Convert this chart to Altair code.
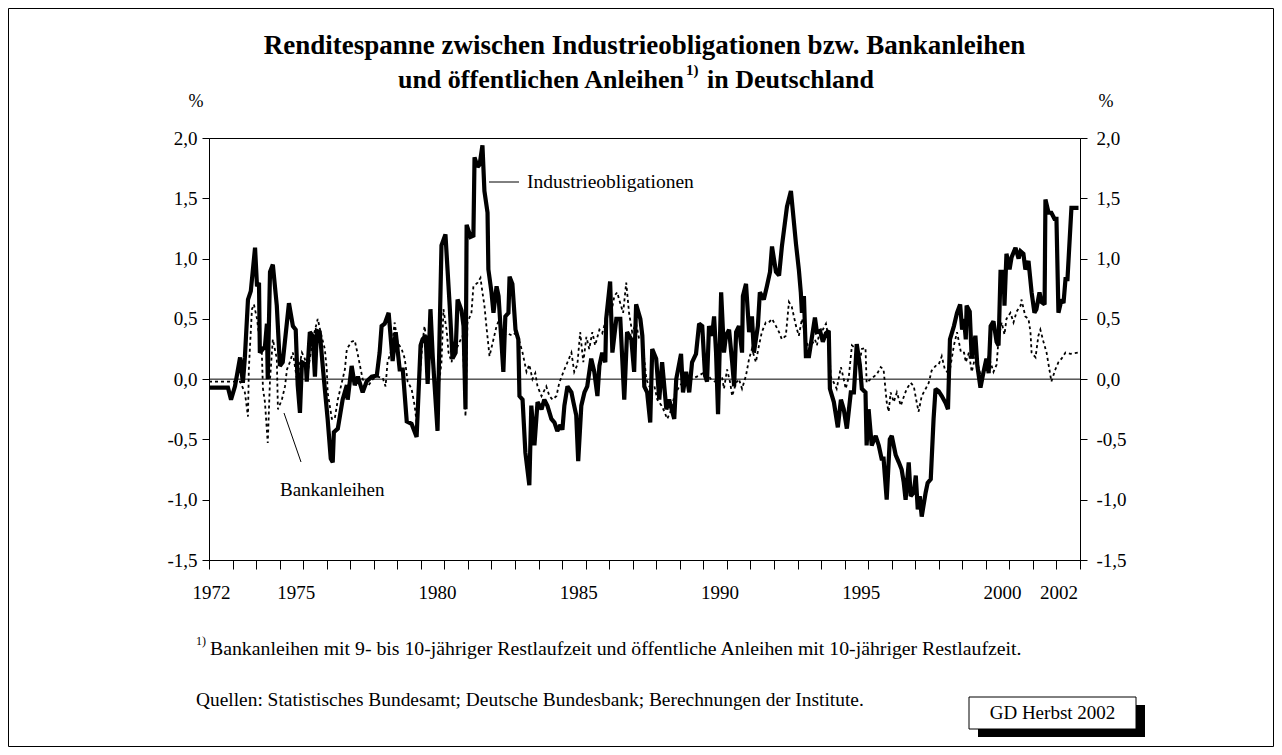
import altair as alt
import pandas as pd

# ---------------- data ----------------
ind_years = [1972.00, 1972.67, 1972.78, 1972.92, 1973.10, 1973.20, 1973.27, 1973.38, 1973.48, 1973.63,
             1973.70, 1973.77, 1973.80, 1973.98, 1974.05, 1974.08, 1974.16, 1974.26, 1974.40, 1974.51,
             1974.61, 1974.83, 1974.97, 1975.07, 1975.14, 1975.22, 1975.29, 1975.43, 1975.46, 1975.57,
             1975.67, 1975.75, 1975.82, 1975.92, 1976.06, 1976.20, 1976.31, 1976.38, 1976.42, 1976.56,
             1976.73, 1976.88, 1976.91, 1977.05, 1977.16, 1977.27, 1977.44, 1977.58, 1977.76, 1977.94,
             1978.04, 1978.11, 1978.22, 1978.36, 1978.50, 1978.61, 1978.75, 1978.86, 1979.00, 1979.17,
             1979.35, 1979.49, 1979.56, 1979.67, 1979.74, 1979.84, 1979.92, 1980.09, 1980.23, 1980.37,
             1980.52, 1980.62, 1980.73, 1980.80, 1980.94, 1981.01, 1981.08, 1981.12, 1981.26, 1981.36,
             1981.40, 1981.51, 1981.58, 1981.68, 1981.75, 1981.86, 1981.89, 1982.00, 1982.07, 1982.18,
             1982.25, 1982.42, 1982.49, 1982.60, 1982.64, 1982.74, 1982.85, 1982.95, 1982.99, 1983.10,
             1983.20, 1983.34, 1983.41, 1983.52, 1983.63, 1983.77, 1983.87, 1983.98, 1984.12, 1984.23,
             1984.33, 1984.44, 1984.51, 1984.58, 1984.69, 1984.83, 1984.90, 1985.00, 1985.07, 1985.18,
             1985.29, 1985.39, 1985.53, 1985.64, 1985.75, 1985.82, 1985.92, 1986.03, 1986.06, 1986.20,
             1986.28, 1986.42, 1986.56, 1986.70, 1986.80, 1986.95, 1987.05, 1987.12, 1987.27, 1987.34,
             1987.41, 1987.51, 1987.62, 1987.69, 1987.83, 1987.94, 1988.04, 1988.19, 1988.29, 1988.40,
             1988.47, 1988.54, 1988.71, 1988.78, 1988.89, 1989.00, 1989.10, 1989.24, 1989.35, 1989.46,
             1989.56, 1989.63, 1989.70, 1989.81, 1989.88, 1989.95, 1990.02, 1990.13, 1990.23, 1990.30,
             1990.41, 1990.52, 1990.59, 1990.66, 1990.76, 1990.87, 1990.90, 1991.01, 1991.12, 1991.22,
             1991.29, 1991.43, 1991.50, 1991.64, 1991.75, 1991.86, 1991.93, 1992.07, 1992.18, 1992.28,
             1992.46, 1992.60, 1992.78, 1992.88, 1992.95, 1992.99, 1993.06, 1993.13, 1993.24, 1993.45,
             1993.52, 1993.63, 1993.73, 1993.84, 1993.94, 1993.98, 1994.12, 1994.26, 1994.37, 1994.47,
             1994.58, 1994.72, 1994.83, 1994.93, 1995.04, 1995.11, 1995.24, 1995.28, 1995.35, 1995.46,
             1995.60, 1995.71, 1995.81, 1995.88, 1995.99, 1996.10, 1996.17, 1996.31, 1996.42, 1996.52,
             1996.59, 1996.66, 1996.77, 1996.84, 1996.95, 1997.02, 1997.09, 1997.16, 1997.23, 1997.37,
             1997.44, 1997.55, 1997.65, 1997.72, 1997.83, 1997.94, 1998.08, 1998.16, 1998.23, 1998.37,
             1998.48, 1998.59, 1998.66, 1998.73, 1998.79, 1998.82, 1998.93, 1999.00, 1999.13, 1999.20,
             1999.31, 1999.41, 1999.52, 1999.60, 1999.67, 1999.77, 1999.88, 1999.95, 2000.02, 2000.13,
             2000.16, 2000.23, 2000.34, 2000.41, 2000.55, 2000.66, 2000.73, 2000.83, 2000.90, 2001.01,
             2001.12, 2001.22, 2001.29, 2001.40, 2001.47, 2001.58, 2001.61, 2001.72, 2001.82, 2001.93,
             2002.00, 2002.07, 2002.18, 2002.25, 2002.32, 2002.39, 2002.53, 2002.78]
ind_values = [-0.07, -0.07, -0.17, -0.06, 0.18, -0.03, 0.18, 0.66, 0.73, 1.09,
              0.77, 0.80, 0.22, 0.27, 0.46, 0.00, 0.89, 0.95, 0.61, 0.11,
              0.14, 0.63, 0.44, 0.41, -0.05, -0.28, 0.14, 0.12, -0.02, 0.39,
              0.36, 0.02, 0.40, 0.39, 0.02, -0.33, -0.66, -0.69, -0.44, -0.41,
              -0.17, -0.05, -0.17, 0.11, -0.05, 0.02, -0.11, -0.02, 0.02, 0.03,
              0.22, 0.44, 0.46, 0.55, 0.15, 0.39, 0.08, 0.08, -0.35, -0.37,
              -0.48, 0.28, 0.33, 0.36, -0.04, 0.58, 0.19, -0.43, 1.11, 1.20,
              0.61, 0.17, 0.22, 0.66, 0.57, 0.44, -0.25, 1.28, 1.18, 1.19,
              1.84, 1.76, 1.78, 1.94, 1.56, 1.38, 0.91, 0.72, 0.55, 0.77,
              0.69, 0.06, 0.52, 0.55, 0.85, 0.79, 0.41, 0.33, -0.14, -0.17,
              -0.61, -0.88, -0.22, -0.55, -0.19, -0.25, -0.17, -0.22, -0.33, -0.36,
              -0.43, -0.38, -0.42, -0.22, -0.06, -0.11, -0.19, -0.30, -0.68, -0.22,
              -0.11, -0.06, 0.17, 0.06, -0.14, 0.11, 0.22, 0.14, 0.50, 0.81,
              0.22, 0.50, 0.50, -0.17, 0.39, 0.33, 0.06, 0.62, 0.50, 0.36,
              -0.06, -0.11, -0.36, 0.25, 0.17, -0.17, 0.14, -0.25, -0.17, -0.27,
              -0.33, 0.00, 0.21, -0.11, 0.06, -0.11, 0.14, 0.21, 0.46, 0.44,
              0.03, -0.02, 0.44, 0.36, 0.52, 0.22, -0.29, 0.72, 0.22, 0.36,
              0.41, 0.14, -0.06, 0.39, 0.44, 0.22, 0.69, 0.79, 0.39, 0.52,
              0.22, 0.44, 0.72, 0.66, 0.77, 0.89, 1.10, 0.89, 0.86, 1.10,
              1.43, 1.56, 1.12, 0.91, 0.72, 0.55, 0.69, 0.19, 0.19, 0.51,
              0.39, 0.40, 0.31, 0.38, 0.40, -0.08, -0.19, -0.40, -0.17, -0.25,
              -0.41, -0.11, -0.11, 0.29, 0.12, -0.08, -0.11, -0.55, -0.25, -0.55,
              -0.47, -0.55, -0.66, -0.66, -1.00, -0.50, -0.47, -0.63, -0.69, -0.75,
              -0.85, -1.00, -0.69, -0.97, -0.94, -0.80, -1.08, -0.97, -1.14, -0.94,
              -0.86, -0.83, -0.33, -0.08, -0.10, -0.14, -0.20, -0.25, 0.33, 0.44,
              0.55, 0.62, 0.41, 0.50, 0.33, 0.61, 0.56, 0.17, 0.36, 0.11,
              -0.07, 0.05, 0.17, 0.05, 0.44, 0.48, 0.31, 0.28, 0.89, 0.89,
              0.61, 1.04, 0.91, 1.01, 1.09, 1.00, 1.06, 1.04, 0.91, 0.98,
              0.72, 0.55, 0.58, 0.72, 0.64, 0.62, 1.49, 1.38, 1.38, 1.33,
              1.33, 0.55, 0.66, 0.63, 0.83, 0.83, 1.42, 1.42]

bank_years = [1972.00, 1973.10, 1973.27, 1973.38, 1973.41, 1973.52, 1973.59, 1973.70, 1973.80, 1973.87,
              1973.91, 1973.98, 1974.08, 1974.16, 1974.26, 1974.40, 1974.44, 1974.58, 1974.69, 1974.76,
              1974.86, 1974.97, 1975.11, 1975.29, 1975.39, 1975.50, 1975.67, 1975.85, 1975.96, 1976.10,
              1976.17, 1976.20, 1976.35, 1976.45, 1976.56, 1976.70, 1976.81, 1976.88, 1977.05, 1977.16,
              1977.27, 1977.44, 1977.62, 1977.80, 1977.97, 1978.15, 1978.25, 1978.32, 1978.47, 1978.57,
              1978.68, 1978.82, 1978.93, 1979.03, 1979.17, 1979.28, 1979.35, 1979.46, 1979.56, 1979.63,
              1979.74, 1979.88, 1979.99, 1980.09, 1980.23, 1980.30, 1980.41, 1980.48, 1980.59, 1980.66,
              1980.76, 1980.87, 1980.98, 1981.08, 1981.15, 1981.29, 1981.36, 1981.51, 1981.61, 1981.68,
              1981.75, 1981.82, 1981.93, 1982.04, 1982.18, 1982.28, 1982.39, 1982.57, 1982.74, 1982.88,
              1982.99, 1983.10, 1983.24, 1983.34, 1983.45, 1983.55, 1983.63, 1983.77, 1983.94, 1984.05,
              1984.16, 1984.30, 1984.40, 1984.58, 1984.69, 1984.83, 1984.93, 1985.04, 1985.14, 1985.25,
              1985.36, 1985.46, 1985.57, 1985.67, 1985.82, 1985.92, 1986.06, 1986.17, 1986.28, 1986.35,
              1986.45, 1986.52, 1986.66, 1986.77, 1986.87, 1986.98, 1987.12, 1987.23, 1987.34, 1987.48,
              1987.59, 1987.77, 1987.87, 1988.02, 1988.12, 1988.22, 1988.37, 1988.47, 1988.65, 1988.86,
              1989.07, 1989.35, 1989.56, 1989.77, 1989.98, 1990.16, 1990.23, 1990.34, 1990.45, 1990.52,
              1990.66, 1990.76, 1990.87, 1991.01, 1991.12, 1991.22, 1991.36, 1991.47, 1991.57, 1991.71,
              1991.82, 1991.93, 1992.07, 1992.18, 1992.28, 1992.42, 1992.53, 1992.63, 1992.78, 1992.88,
              1992.99, 1993.13, 1993.24, 1993.45, 1993.52, 1993.63, 1993.73, 1993.84, 1993.94, 1994.01,
              1994.12, 1994.22, 1994.37, 1994.47, 1994.54, 1994.65, 1994.76, 1994.90, 1995.01, 1995.11,
              1995.24, 1995.28, 1995.42, 1995.53, 1995.64, 1995.78, 1995.88, 1995.99, 1996.06, 1996.13,
              1996.24, 1996.35, 1996.49, 1996.59, 1996.70, 1996.84, 1996.95, 1997.05, 1997.12, 1997.23,
              1997.37, 1997.48, 1997.58, 1997.72, 1997.83, 1997.94, 1998.05, 1998.13, 1998.23, 1998.37,
              1998.48, 1998.62, 1998.73, 1998.79, 1998.90, 1999.00, 1999.13, 1999.24, 1999.35, 1999.45,
              1999.60, 1999.77, 1999.88, 1999.95, 2000.06, 2000.16, 2000.23, 2000.37, 2000.48, 2000.59,
              2000.73, 2000.76, 2000.90, 2001.01, 2001.08, 2001.12, 2001.26, 2001.36, 2001.43, 2001.54,
              2001.65, 2001.75, 2001.82, 2001.96, 2002.07, 2002.18, 2002.32, 2002.49, 2002.78]
bank_values = [-0.02, -0.02, -0.11, -0.31, 0.08, 0.58, 0.62, 0.50, 0.30, 0.22,
               -0.08, -0.19, -0.53, 0.00, 0.33, 0.17, -0.25, -0.17, -0.06, 0.08,
               0.14, 0.22, 0.00, 0.22, 0.17, 0.06, 0.33, 0.50, 0.38, 0.25,
               0.08, -0.11, -0.33, -0.33, -0.17, -0.03, 0.08, 0.25, 0.31, 0.32,
               0.20, 0.00, -0.06, 0.00, 0.02, 0.01, -0.06, 0.14, 0.25, 0.47,
               0.30, 0.25, 0.17, -0.02, -0.08, -0.22, -0.36, 0.02, 0.31, 0.44,
               0.25, 0.17, 0.05, -0.14, 0.14, 0.58, 0.41, 0.22, 0.14, 0.31,
               0.25, 0.31, 0.36, -0.31, 0.47, 0.55, 0.77, 0.80, 0.84, 0.72,
               0.61, 0.44, 0.19, 0.30, 0.44, 0.50, 0.36, 0.38, 0.36, 0.39,
               0.31, 0.22, 0.06, 0.12, 0.00, 0.05, -0.06, -0.14, -0.06, -0.14,
               -0.17, -0.14, -0.03, 0.08, 0.14, 0.22, 0.06, 0.12, 0.39, 0.14,
               0.35, 0.25, 0.39, 0.28, 0.41, 0.38, 0.50, 0.58, 0.60, 0.69,
               0.72, 0.66, 0.55, 0.80, 0.55, 0.39, 0.46, 0.33, 0.33, 0.00,
               -0.06, -0.06, -0.17, -0.22, -0.27, -0.33, -0.25, -0.14, -0.06, 0.00,
               0.00, 0.03, 0.06, 0.00, -0.03, 0.02, -0.08, 0.08, -0.03, -0.14,
               -0.03, 0.00, -0.08, 0.03, 0.17, 0.25, 0.14, 0.28, 0.39, 0.47,
               0.47, 0.50, 0.44, 0.39, 0.33, 0.36, 0.64, 0.60, 0.44, 0.36,
               0.50, 0.33, 0.25, 0.33, 0.28, 0.41, 0.41, 0.46, 0.33, 0.02,
               -0.03, -0.08, 0.10, 0.00, -0.08, 0.02, 0.28, 0.25, 0.10, 0.25,
               0.26, -0.03, 0.00, 0.02, 0.04, 0.10, 0.08, -0.19, -0.27, -0.11,
               -0.19, -0.11, -0.22, -0.15, -0.08, -0.03, -0.06, -0.19, -0.27, -0.14,
               -0.08, -0.03, 0.07, 0.11, 0.12, 0.19, 0.08, 0.06, 0.08, 0.28,
               0.39, 0.22, 0.22, 0.14, 0.22, 0.06, 0.19, 0.10, 0.00, 0.08,
               0.19, 0.06, 0.12, 0.33, 0.47, 0.37, 0.50, 0.55, 0.47, 0.56,
               0.61, 0.66, 0.52, 0.50, 0.39, 0.22, 0.18, 0.36, 0.41, 0.31,
               0.22, 0.08, -0.02, 0.08, 0.14, 0.17, 0.22, 0.21, 0.22]

year_labels = ["1972", "1975", "1980", "1985", "1990", "1995", "2000", "2002"]
y_tick_values = [-1.5, -1.0, -0.5, 0.0, 0.5, 1.0, 1.5, 2.0]

title_line1 = "Renditespanne zwischen Industrieobligationen bzw. Bankanleihen"
title_line2a = "und öffentlichen Anleihen"
title_line2b = "1)"
title_line2c = "in Deutschland"
series_names = ["Industrieobligationen", "Bankanleihen"]
footnote_mark = "1)"
footnote_text = "Bankanleihen mit 9- bis 10-jähriger Restlaufzeit und öffentliche Anleihen mit 10-jähriger Restlaufzeit."
source_text = "Quellen: Statistisches Bundesamt; Deutsche Bundesbank; Berechnungen der Institute."
badge_text = "GD Herbst 2002"

# ---------------- chart ----------------
FONT = "Liberation Serif"
W, H = 871, 422
X0, X1 = 1972.0, 1972.0 + 370 / 12
tick_positions = [1972.0 + k * 10 / 12 for k in range(38) if 1972.0 + k * 10 / 12 <= X1 + 1e-9]
label_positions = [int(s) for s in year_labels]

x_scale = alt.Scale(domain=[X0, X1], nice=False, zero=False)
y_scale = alt.Scale(domain=[-1.5, 2.0], nice=False, zero=False)
y_label_expr = "replace(replace(format(datum.value, '.1f'), '.', ','), '\u2212', '-')"

ind_df = pd.DataFrame({"year": ind_years, "value": ind_values})
bank_df = pd.DataFrame({"year": bank_years, "value": bank_values})

AX_FS = 19
common_axis = dict(labelFont=FONT, labelFontSize=AX_FS, labelColor="black",
                   domainColor="black", tickColor="black", grid=False)

solid = alt.Chart(ind_df).mark_line(color="black", strokeWidth=4.2, strokeJoin="miter",
                                    strokeMiterLimit=2).encode(
    x=alt.X("year:Q", scale=x_scale, title=None,
            axis=alt.Axis(orient="bottom", values=tick_positions, labels=False, tickSize=9,
                          domain=True, **common_axis)),
    y=alt.Y("value:Q", scale=y_scale, title=None,
            axis=alt.Axis(orient="left", values=y_tick_values, labelExpr=y_label_expr,
                          tickSize=7, labelPadding=5, **common_axis)),
)

dotted = alt.Chart(bank_df).mark_line(color="black", strokeWidth=1.8, strokeDash=[3, 3]).encode(
    x=alt.X("year:Q", scale=x_scale, axis=None),
    y=alt.Y("value:Q", scale=y_scale, title=None,
            axis=alt.Axis(orient="right", values=y_tick_values, labelExpr=y_label_expr,
                          tickSize=7, labelPadding=9, **common_axis)),
)

label_axis = alt.Chart(pd.DataFrame({"pos": label_positions})).mark_point(opacity=0).encode(
    x=alt.X("pos:Q", scale=x_scale, title=None,
            axis=alt.Axis(orient="bottom", values=label_positions,
                          labelExpr="format(datum.value, 'd')",
                          ticks=False, domain=False, labelPadding=23, labelOffset=2,
                          labelFlush=False, **common_axis)),
)

zero_rule = alt.Chart(pd.DataFrame({"z": [0.0]})).mark_rule(color="black", strokeWidth=1).encode(
    y=alt.Y("z:Q", scale=y_scale, axis=None)
)


def text(t, x, y, size=19, bold=False, align="left", baseline="middle"):
    return alt.Chart(pd.DataFrame({"t": [t]})).mark_text(
        font=FONT, fontSize=size, fontWeight="bold" if bold else "normal",
        color="black", align=align, baseline=baseline
    ).encode(text="t:N", x=alt.value(x), y=alt.value(y))


def rule(x, x2, y, y2, width=1):
    return alt.Chart(pd.DataFrame({"a": [0]})).mark_rule(color="black", strokeWidth=width).encode(
        x=alt.value(x), x2=alt.value(x2), y=alt.value(y), y2=alt.value(y2))


def rect(x, x2, y, y2, fill, stroke=None):
    kw = dict(fill=fill)
    if stroke:
        kw.update(stroke=stroke, strokeWidth=1)
    return alt.Chart(pd.DataFrame({"a": [0]})).mark_rect(**kw).encode(
        x=alt.value(x), x2=alt.value(x2), y=alt.value(y), y2=alt.value(y2))


frame = rect(-200.5, 1064.5, -129.5, 608.5, "transparent", "black")

title1 = text(title_line1, W / 2, -92, size=27, bold=True, align="center")
title2a = text(title_line2a, 475, -58, size=26, bold=True, align="right")
title2b = text(title_line2b, 477, -68, size=15, bold=True, align="left")
title2c = text(title_line2c, 498, -58, size=26, bold=True, align="left")

pct_left = text("%", -13, -36, size=18, align="center")
pct_right = text("%", 897, -36, size=18, align="center")

ind_label = text(series_names[0], 318, 44, size=19.5)
ind_leader = rule(280, 310, 44, 44)
bank_label = text(series_names[1], 71, 352, size=19)
bank_leader = rule(75, 92, 275, 324)

fn_mark = text(footnote_mark, -13, 503, size=12)
fn_text = text(footnote_text, 1, 511, size=19.8)
src = text(source_text, -13, 562, size=19.4)

badge_shadow = rect(769, 936, 567, 599, "black")
badge_box = rect(760, 927, 559, 591, "white", "black")
badge = text(badge_text, 843.5, 575, size=19, align="center")

chart = alt.layer(
    frame, zero_rule, dotted, solid, label_axis,
    title1, title2a, title2b, title2c, pct_left, pct_right,
    ind_label, ind_leader, bank_label, bank_leader,
    fn_mark, fn_text, src, badge_shadow, badge_box, badge,
).resolve_axis(x="independent", y="independent").properties(
    width=W, height=H,
    autosize=alt.AutoSizeParams(type="none"),
    padding={"left": 201, "top": 130, "right": 194, "bottom": 187},
    background="white",
).configure_view(stroke="black", strokeWidth=1)

chart.save("out.html", embed_options={"renderer": "svg", "actions": False})
